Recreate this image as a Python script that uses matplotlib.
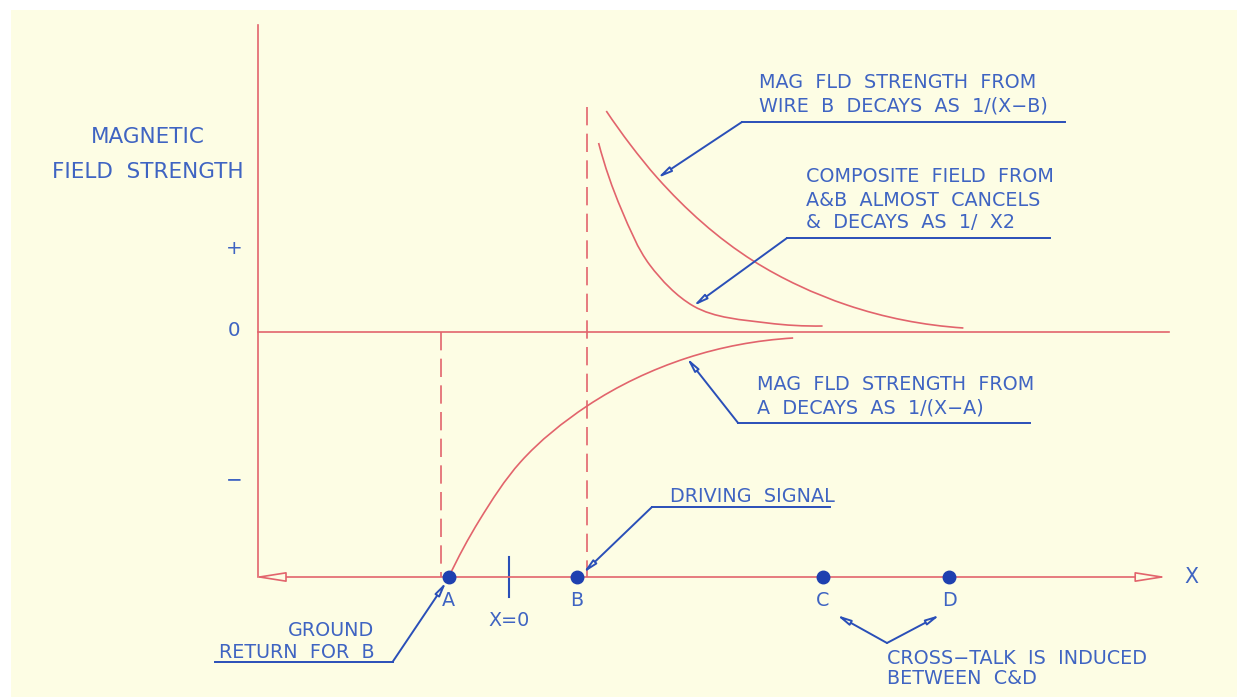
import numpy as np
import matplotlib; matplotlib.use("Agg")
import matplotlib.pyplot as plt
from matplotlib.patches import Rectangle, PathPatch
from matplotlib.path import Path

# ─── Data (x: wire spacing units, y: field strength) ─────────────────────────
wire_names = ["A", "B", "C", "D"]
wire_x     = [-0.47, 0.53, 2.45, 3.44]

# field from wire A (negative, rising towards 0)
field_a_x = [-0.47, -0.23, 0.09, 0.61, 1.39, 2.22]
field_a_y = [-2.45, -1.88, -1.30, -0.74, -0.26, -0.06]

# field from wire B (positive, decaying)
field_b_x = [0.76, 0.95, 1.16, 1.91, 2.64, 3.55]
field_b_y = [2.21, 1.87, 1.54, 0.71, 0.27, 0.04]

# composite field A+B
comp_x = [0.70, 0.88, 1.10, 1.44, 2.02, 2.45]
comp_y = [1.89, 1.22, 0.67, 0.26, 0.09, 0.06]

sign_labels = ["+", "0", "\u2212"]
sign_y      = [0.84, 0.02, -1.48]

# ─── Styling ─────────────────────────────────────────────────────────────────
RED    = "#E2646C"
BLUE   = "#3F64C2"
DBLUE  = "#2A4FB8"
DOT    = "#1E40B0"
YELLOW = "#FDFDE4"
FONT   = "DejaVu Sans"
FS     = 13.8

W, H = 1237, 697
fig = plt.figure(figsize=(W/100, H/100), dpi=100, facecolor="white")
ax = fig.add_axes([0, 0, 1, 1])
ax.set_facecolor("none")
ax.add_patch(Rectangle((11/W, -0.05), 1.1, 1.05 - 10/H, transform=fig.transFigure,
                       facecolor=YELLOW, edgecolor="none", zorder=-10))
# pixel -> data mapping: x = (px-509)/128, y = (332-py)/100
ax.set_xlim(-509/128, (W-509)/128)
ax.set_ylim((332-H)/100, 332/100)
ax.axis("off")

def smooth_curve(xs, ys, **kw):
    # smooth line through the read points (Bessel tangents -> cubic Bezier)
    p = np.column_stack([xs, ys]).astype(float)
    sc = np.array([128.0, 100.0])          # data units -> pixels, for chord lengths
    d = np.linalg.norm(np.diff(p * sc, axis=0), axis=1)
    s = np.diff(p, axis=0) / d[:, None]
    n = len(p)
    m = np.zeros_like(p)
    for i in range(1, n - 1):
        m[i] = (d[i]*s[i-1] + d[i-1]*s[i]) / (d[i-1] + d[i])
    m[0] = s[0] + (s[0] - s[1]) * d[0] / (d[0] + d[1])
    m[-1] = s[-1] + (s[-1] - s[-2]) * d[-1] / (d[-1] + d[-2])
    verts, codes = [p[0]], [Path.MOVETO]
    for i in range(n - 1):
        verts += [p[i] + m[i]*d[i]/3, p[i+1] - m[i+1]*d[i]/3, p[i+1]]
        codes += [Path.CURVE4]*3
    ax.add_patch(PathPatch(Path(verts, codes), fill=False, **kw))

y_axis_x, x_axis_y = -1.96, -2.45

# axes
ax.plot([y_axis_x, y_axis_x], [3.07, x_axis_y], color=RED, lw=1.2)
ax.plot([y_axis_x, 5.16], [0, 0], color=RED, lw=1.2)
ax.annotate("", xy=(5.14, x_axis_y), xytext=(0.0, x_axis_y),
            arrowprops=dict(arrowstyle="-|>,head_length=1.9,head_width=0.3", color=RED,
                            fc=YELLOW, lw=1.2, shrinkA=0, shrinkB=0))
ax.annotate("", xy=(-1.99, x_axis_y), xytext=(0.0, x_axis_y),
            arrowprops=dict(arrowstyle="-|>,head_length=1.9,head_width=0.3", color=RED,
                            fc=YELLOW, lw=1.2, shrinkA=0, shrinkB=0))

# dashed guides
ax.plot([-0.53, -0.53], [0, x_axis_y], color=RED, lw=1.2, dashes=(11, 5))
ax.plot([0.61, 0.61], [2.25, x_axis_y], color=RED, lw=1.2, dashes=(11, 5))

# field curves
smooth_curve(field_a_x, field_a_y, edgecolor=RED, lw=1.2)
smooth_curve(field_b_x, field_b_y, edgecolor=RED, lw=1.2)
smooth_curve(comp_x, comp_y, edgecolor=RED, lw=1.2)

# wires
ax.plot(wire_x, [x_axis_y]*4, "o", color=DOT, ms=9, zorder=5)
for name, wx in zip(wire_names, wire_x):
    ax.text(wx, x_axis_y - 0.24, name, ha="center", va="center", color=BLUE,
            fontsize=FS, family=FONT)
ax.plot([0, 0], [-2.25, -2.65], color=DBLUE, lw=1.5)
ax.text(0, -2.88, "X=0", ha="center", va="center", color=BLUE, fontsize=FS, family=FONT)
ax.text(5.33, x_axis_y, "X", ha="center", va="center", color=BLUE, fontsize=FS + 1, family=FONT)

# y axis labels
for s, sy in zip(sign_labels, sign_y):
    ax.text(-2.15, sy, s, ha="center", va="center", color=BLUE, fontsize=FS + 0.5, family=FONT)
ax.text(-2.82, 1.95, "MAGNETIC", ha="center", va="center", color=BLUE, fontsize=15.5, family=FONT)
ax.text(-2.82, 1.60, "FIELD  STRENGTH", ha="center", va="center", color=BLUE, fontsize=15.5, family=FONT)

# leaders with text
def leader(tip, elbow, end_x):
    ax.annotate("", xy=tip, xytext=elbow,
                arrowprops=dict(arrowstyle="-|>,head_length=0.8,head_width=0.16", color=DBLUE,
                                fc=YELLOW, lw=1.4, shrinkA=0, shrinkB=0))
    ax.plot([elbow[0], end_x], [elbow[1], elbow[1]], color=DBLUE, lw=1.4)

def block(x, y_top, lines, ha="left", step=0.23):
    for i, ln in enumerate(lines):
        ax.text(x, y_top - i*step, ln, ha=ha, va="center", color=BLUE, fontsize=FS, family=FONT)

leader((1.16, 1.54), (1.82, 2.10), 4.34)
block(1.95, 2.49, ["MAG  FLD  STRENGTH  FROM", "WIRE  B  DECAYS  AS  1/(X\u2212B)"])

leader((1.44, 0.26), (2.172, 0.94), 4.23)
block(2.32, 1.55, ["COMPOSITE  FIELD  FROM", "A&B  ALMOST  CANCELS", "&  DECAYS  AS  1/  X2"])

leader((1.39, -0.26), (1.79, -0.91), 4.07)
block(1.94, -0.53, ["MAG  FLD  STRENGTH  FROM", "A  DECAYS  AS  1/(X\u2212A)"])

leader((0.58, -2.41), (1.117, -1.75), 2.51)
block(1.26, -1.65, ["DRIVING  SIGNAL"])

leader((-0.49, -2.50), (-0.91, -3.30), -2.30)
block(-1.05, -2.98, ["GROUND", "RETURN  FOR  B"], ha="right", step=0.22)

ax.annotate("", xy=(2.56, -2.83), xytext=(2.953, -3.11),
            arrowprops=dict(arrowstyle="-|>,head_length=0.8,head_width=0.16", color=DBLUE,
                            fc=YELLOW, lw=1.4, shrinkA=0, shrinkB=0))
ax.annotate("", xy=(3.367, -2.83), xytext=(2.953, -3.11),
            arrowprops=dict(arrowstyle="-|>,head_length=0.8,head_width=0.16", color=DBLUE,
                            fc=YELLOW, lw=1.4, shrinkA=0, shrinkB=0))
block(2.953, -3.26, ["CROSS\u2212TALK  IS  INDUCED", "BETWEEN  C&D"], step=0.20)

plt.savefig("out.png", dpi=100)
plt.close()
